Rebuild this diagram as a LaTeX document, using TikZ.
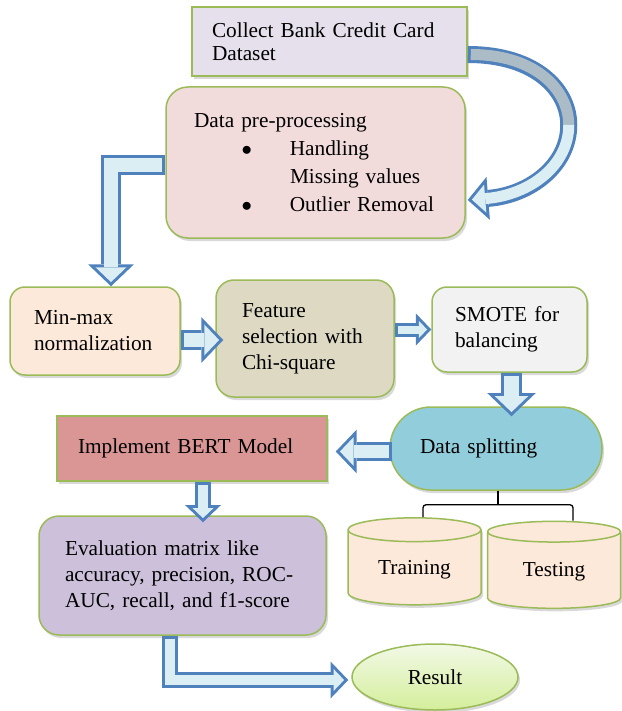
\documentclass[tikz,border=0pt]{standalone}
\usepackage{fontspec}
\setmainfont{Liberation Serif}
\usetikzlibrary{shapes.geometric,arrows.meta,positioning,shadows,calc}

\definecolor{boxGreen}{RGB}{155,187,89}
\definecolor{collectFill}{RGB}{229,224,236}
\definecolor{prepFill}{RGB}{242,220,219}
\definecolor{peachFill}{RGB}{253,233,217}
\definecolor{featFill}{RGB}{221,217,195}
\definecolor{smoteFill}{RGB}{242,242,242}
\definecolor{splitFill}{RGB}{146,205,220}
\definecolor{bertFill}{RGB}{217,150,148}
\definecolor{evalFill}{RGB}{204,192,218}
\definecolor{resTop}{RGB}{242,249,230}
\definecolor{resBottom}{RGB}{212,238,155}
\definecolor{arrowBorder}{RGB}{79,129,189}
\definecolor{arrowFill}{RGB}{219,238,244}
\definecolor{arrowGray}{RGB}{172,188,198}

\tikzset{
    box/.style={draw=boxGreen, line width=1.5pt, align=left,
        font=\fontsize{21.3}{26}\selectfont,
        drop shadow={shadow xshift=2pt, shadow yshift=-3pt, opacity=0.3}},
    rbox/.style={box, rounded corners=15pt},
    drum/.style={box, cylinder, shape border rotate=90, aspect=0.3,
        minimum width=133pt, minimum height=87pt, fill=peachFill, align=center}
}

% block arrow: blue outline first, light core on top
\newcommand{\fatarrow}[2][1]{%
    \pgfmathsetmacro{\fatOutW}{#1*20}%
    \pgfmathsetmacro{\fatOutL}{#1*22}%
    \pgfmathsetmacro{\fatOutH}{#1*46}%
    \pgfmathsetmacro{\fatInW}{#1*20-6}%
    \pgfmathsetmacro{\fatInL}{#1*22-7.15}%
    \pgfmathsetmacro{\fatInH}{(#1*22-7.15)*46/22}%
    \draw[arrowBorder, line width=\fatOutW pt,
        -{Triangle[length=\fatOutL pt, width=\fatOutH pt, line width=0pt]}] #2;
    \draw[arrowFill, line width=\fatInW pt, shorten <=3pt, shorten >=4.15pt,
        -{Triangle[length=\fatInL pt, width=\fatInH pt, line width=0pt]}] #2;}

\begin{document}
\begin{tikzpicture}[x=1pt, y=-1pt]
    \useasboundingbox (0,0) rectangle (621,711);

    \node[box, fill=collectFill, minimum width=275pt, minimum height=69pt, inner xsep=20pt, text width=235pt,
        font=\fontsize{21.3}{23.5}\selectfont] (collect) at (329.5,41.5) {Collect Bank Credit Card\\Dataset};

    \node[rbox, rounded corners=22pt, fill=prepFill, minimum width=299pt, minimum height=151pt, inner xsep=28pt, text width=243pt,
        font=\fontsize{21.3}{28}\selectfont] (prep) at (315.5,162.5) {Data pre-processing\\
        \hspace*{47.7pt}$\bullet$\hspace{37.7pt}Handling\\
        \hspace*{96pt}Missing values\\
        \hspace*{47.7pt}$\bullet$\hspace{37.7pt}Outlier Removal};

    \node[rbox, fill=peachFill, minimum width=170pt, minimum height=88pt, inner xsep=24pt, text width=122pt] (minmax) at (95,331) {Min-max\\normalization};
    \node[rbox, rounded corners=18pt, fill=featFill, minimum width=178pt, minimum height=117pt, inner xsep=26pt, text width=126pt] (feat) at (305,338.5) {Feature\\selection with\\Chi-square};
    \node[rbox, fill=smoteFill, minimum width=155pt, minimum height=85pt, inner xsep=23pt, text width=109pt] (smote) at (509.5,329.5) {SMOTE for\\balancing};

    \node[box, rounded corners=41pt, fill=splitFill, minimum width=212pt, minimum height=83pt, inner xsep=30pt, text width=152pt] (split) at (496,448.5) {Data splitting};
    \node[box, fill=bertFill, minimum width=270pt, minimum height=65pt, inner xsep=21pt, text width=228pt] (bert) at (192,448.5) {Implement BERT Model};
    \node[rbox, rounded corners=20pt, fill=evalFill, minimum width=287pt, minimum height=119pt, inner xsep=26pt, text width=235pt] (eval) at (182.5,575.5) {Evaluation matrix like\\accuracy, precision, ROC-\\AUC, recall, and f1-score};

    \node[drum] (train) at (414.5,569.5) {Training};
    \node[drum] (test) at (554,572) {Testing};

    \node[box, ellipse, top color=resTop, bottom color=resBottom, minimum width=166pt, minimum height=66pt, align=center] (result) at (435,677) {Result};

    % bracket under data splitting
    \coordinate (brk) at ($(split.south)+(2,14)$);
    \draw[line width=1.3pt] (split.south -| brk) -- (brk);
    \draw[line width=1.3pt, rounded corners=3pt] ($(train.north)+(8.5,0)$) |- (brk) -| ($(test.north)+(19,0)$);

    % curved arrow from the dataset box
    \coordinate (cStart) at ($(collect.east)+(0,13)$);
    \coordinate (swing) at ($(collect.east)+(101,83.5)$);
    \coordinate (cEnd) at ($(prep.east)+(2,37.5)$);
    \draw[arrowBorder, line width=17pt, -{Triangle[length=20.5pt, width=43pt, line width=0pt]}]
        (cStart) .. controls +(68,0) and +(0,-35) .. (swing) .. controls +(0,40) and +(63,-5) .. (cEnd);
    \draw[arrowGray, line width=11pt, shorten <=3pt] (cStart) .. controls +(68,0) and +(0,-35) .. (swing);
    \draw[arrowFill, line width=11pt, shorten >=4.15pt, -{Triangle[length=13.35pt, width=28pt, line width=0pt]}]
        (swing) .. controls +(0,40) and +(63,-5) .. (cEnd);

    \fatarrow{($(prep.west)+(0,2.5)$) -| ($(minmax.north)+(16,0)$)}
    \fatarrow{($(feat.west -| minmax.east)+(0,1.5)$) -- ($(feat.west)+(8,1.5)$)}
    \fatarrow[0.7]{(smote.west -| feat.east) -- (smote.west)}
    \fatarrow[1.05]{($(smote.south)+(2,0)$) -- ($(smote.south |- split.north)+(2,10)$)}
    \fatarrow[0.95]{($(split.west)+(3,3)$) -- ($(bert.east)+(8,3)$)}
    \fatarrow[0.78]{($(bert.south)+(11,0)$) -- ($(bert.south |- eval.north)+(11,7)$)}
    \fatarrow[0.8]{($(eval.south)+(-12.5,0)$) |- ($(result.west)+(-3,3)$)}
\end{tikzpicture}
\end{document}
